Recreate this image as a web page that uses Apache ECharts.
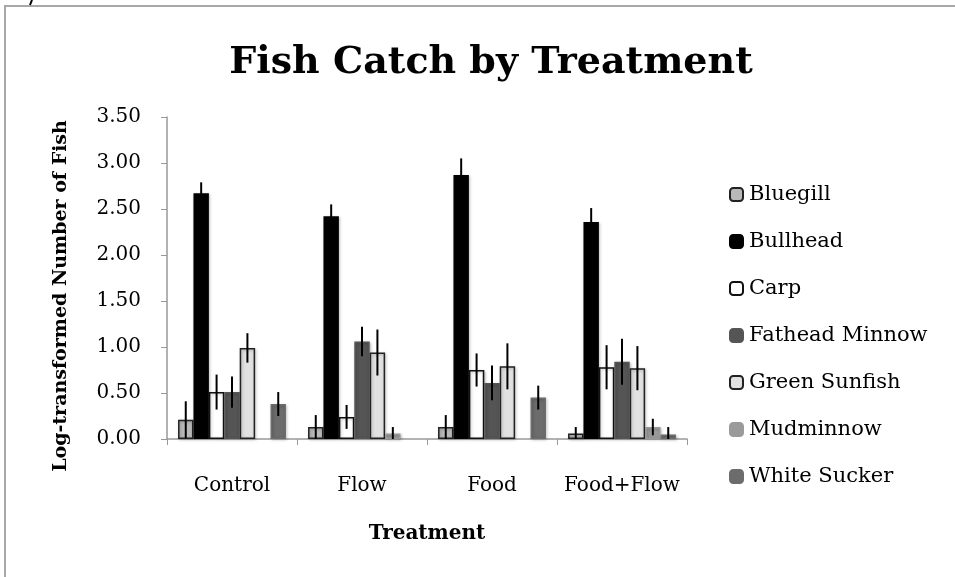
<!DOCTYPE html>
<html>
<head>
<meta charset="utf-8">
<script src="https://cdn.jsdelivr.net/npm/echarts@6/dist/echarts.min.js"></script>
<style>
  html, body { margin: 0; padding: 0; background: #fff; }
  #chart { width: 955px; height: 577px; }
</style>
</head>
<body>
<div id="chart"></div>
<script>
// treatments on the x axis
const treatments = ['Control', 'Flow', 'Food', 'Food+Flow']
const fishNames = ['Bluegill', 'Bullhead', 'Carp', 'Fathead Minnow', 'Green Sunfish', 'Mudminnow', 'White Sucker']
const yTicks = [0, 0.5, 1, 1.5, 2, 2.5, 3, 3.5]

// mean log-transformed catch, one array per fish (Control, Flow, Food, Food+Flow)
const bluegill = [0.21, 0.13, 0.13, 0.06]
const bullhead = [2.67, 2.42, 2.87, 2.36]
const carp = [0.51, 0.24, 0.75, 0.78]
const fathead = [0.51, 1.06, 0.61, 0.84]
const greenSunfish = [0.99, 0.94, 0.79, 0.77]
const mudminnow = [0, 0.06, 0, 0.13]
const whiteSucker = [0.38, 0, 0.45, 0.05]

// error bar half-lengths
const bluegillErr = [0.2, 0.13, 0.13, 0.07]
const bullheadErr = [0.12, 0.13, 0.18, 0.15]
const carpErr = [0.19, 0.13, 0.18, 0.24]
const fatheadErr = [0.17, 0.16, 0.19, 0.25]
const greenSunfishErr = [0.16, 0.25, 0.25, 0.24]
const mudminnowErr = [0, 0.07, 0, 0.09]
const whiteSuckerErr = [0.13, 0, 0.13, 0.08]

const values = [bluegill, bullhead, carp, fathead, greenSunfish, mudminnow, whiteSucker]
const errors = [bluegillErr, bullheadErr, carpErr, fatheadErr, greenSunfishErr, mudminnowErr, whiteSuckerErr]

const fills = ['#b9b9b9', '#000000', '#ffffff', '#555555', '#e1e1e1', '#9a9a9a', '#6c6c6c']
const borders = ['#222', '#000', '#111', '#555555', '#222', '#9a9a9a', '#6c6c6c']

const font = 'DejaVu Serif'
const catGap = 0.17
const nFish = fishNames.length

let series = []
fishNames.forEach((name, i) => {
  series.push({
    name: name,
    type: 'bar',
    barGap: '0%',
    barCategoryGap: (catGap * 100) + '%',
    // zero means no bar is seen, so hide its outline too
    data: values[i].map(v => v === 0 ? { value: 0, itemStyle: { opacity: 0 } } : v),
    itemStyle: {
      color: fills[i],
      borderColor: borders[i],
      borderWidth: 1.5,
      shadowColor: 'rgba(0,0,0,0.25)',
      shadowBlur: 3,
      shadowOffsetX: 1,
      shadowOffsetY: 1
    },
    z: 2
  })
})

// error bars drawn as custom series on top of each bar
fishNames.forEach((name, i) => {
  series.push({
    type: 'custom',
    name: 'err-' + name,
    data: values[i].map((v, k) => [k, v, errors[i][k]]),
    z: 5,
    silent: true,
    renderItem(params, api) {
      const k = api.value(0)
      const v = api.value(1)
      const e = api.value(2)
      if (!e) return null
      const bandW = api.size([1, 0])[0]
      const barW = bandW * (1 - catGap) / nFish
      const center = api.coord([k, 0])[0]
      const x = center + (i - (nFish - 1) / 2) * barW
      const top = api.coord([k, v + e])[1]
      const bot = api.coord([k, Math.max(0, v - e)])[1]
      return {
        type: 'line',
        shape: { x1: x, y1: top, x2: x, y2: bot },
        style: { stroke: '#000', lineWidth: 2 }
      }
    }
  })
})

const option = {
  backgroundColor: '#fff',
  animation: false,
  title: {
    text: 'Fish Catch by Treatment',
    left: 486,
    textAlign: 'center',
    top: 39,
    textStyle: { fontFamily: font, fontSize: 38, fontWeight: 'bold', color: '#000' }
  },
  graphic: [
    { type: 'line', shape: { x1: 4, y1: 6, x2: 955, y2: 6 }, style: { stroke: '#a8a8a8', lineWidth: 2 } },
    { type: 'line', shape: { x1: 5, y1: 6, x2: 5, y2: 577 }, style: { stroke: '#a8a8a8', lineWidth: 2 } },
    { type: 'line', shape: { x1: 32, y1: 0, x2: 30, y2: 5 }, style: { stroke: '#000', lineWidth: 2 } }
  ],
  legend: {
    orient: 'vertical',
    left: 724,
    top: 179,
    itemGap: 26,
    itemWidth: 13,
    itemHeight: 13,
    data: fishNames,
    textStyle: { fontFamily: font, fontSize: 21, color: '#000', padding: [0, 0, 0, 1] }
  },
  grid: { left: 167, right: 268, top: 117, bottom: 138 },
  xAxis: {
    type: 'category',
    data: treatments,
    name: 'Treatment',
    nameLocation: 'middle',
    nameGap: 85,
    nameTextStyle: { fontFamily: font, fontSize: 20, fontWeight: 'bold', color: '#000' },
    axisLine: { lineStyle: { color: '#999', width: 1.5 } },
    axisTick: { show: true, length: 6, lineStyle: { color: '#999' } },
    axisLabel: { fontFamily: font, fontSize: 20, color: '#000', margin: 37, interval: 0 }
  },
  yAxis: {
    type: 'value',
    min: yTicks[0],
    max: yTicks[yTicks.length - 1],
    interval: 0.5,
    name: 'Log-transformed Number of Fish',
    nameLocation: 'middle',
    nameGap: 96,
    nameTextStyle: {
      fontFamily: font, fontSize: 19, fontWeight: 'bold', color: '#000',
      padding: [0, 36, 0, 0]
    },
    axisLine: { show: true, lineStyle: { color: '#999', width: 1.5 } },
    axisTick: { show: true, length: 6, lineStyle: { color: '#999' } },
    splitLine: { show: false },
    axisLabel: {
      fontFamily: font,
      fontSize: 20,
      color: '#000',
      margin: 26,
      formatter: v => v.toFixed(2)
    }
  },
  series: series
}

const chart = echarts.init(document.getElementById('chart'))
chart.setOption(option)
</script>
</body>
</html>
